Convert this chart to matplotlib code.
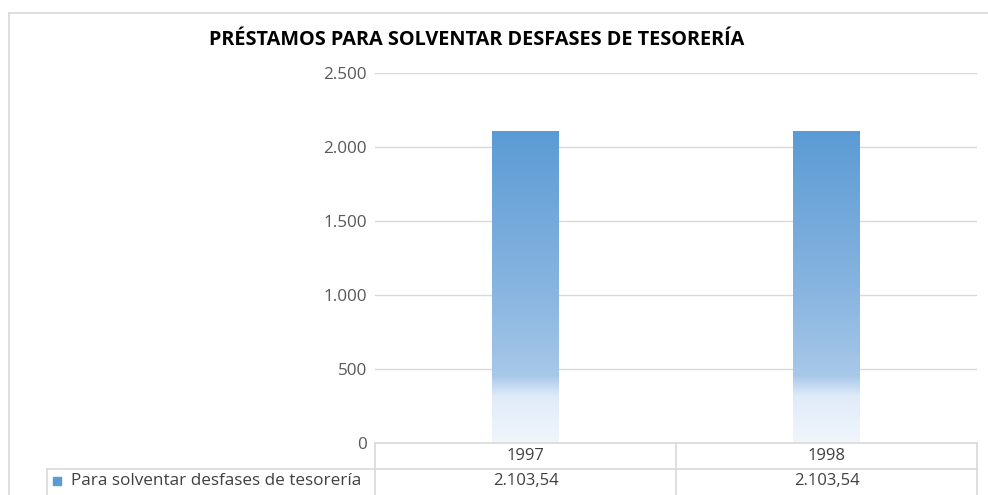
import numpy as np
import matplotlib
matplotlib.use("Agg")
import matplotlib.pyplot as plt
from matplotlib.lines import Line2D
from matplotlib.patches import Rectangle

categories = ["1997", "1998"]
values = [2103.54, 2103.54]
value_labels = ["2.103,54", "2.103,54"]
series_name = "Para solventar desfases de tesorería"
title = "PRÉSTAMOS PARA SOLVENTAR DESFASES DE TESORERÍA"
yticks = [0, 500, 1000, 1500, 2000, 2500]
ytick_labels = ["0", "500", "1.000", "1.500", "2.000", "2.500"]

plt.rcParams['font.family'] = ['Open Sans', 'DejaVu Sans']

W, H = 988, 495
fig = plt.figure(figsize=(W / 100, H / 100), dpi=100)

def fx(px):
    return px / W

def fy(py):
    return 1 - py / H

x0, x1 = 375, 977
y0, y1 = 443, 73
ax = fig.add_axes([fx(x0), fy(y0), fx(x1) - fx(x0), fy(y1) - fy(y0)])
ax.set_xlim(-0.5, len(categories) - 0.5)
ax.set_ylim(0, 2500)
ax.set_yticks(yticks)
ax.set_yticklabels(ytick_labels, fontsize=12.3, color="#595959")
ax.tick_params(axis="y", length=0, pad=6)
ax.set_xticks([])
for s in ax.spines.values():
    s.set_visible(False)
ax.grid(axis="y", color="#d9d9d9", linewidth=1)
ax.set_axisbelow(True)

# gradient for bars (relative to bar height)
stops = [(0.0, (241, 246, 252)), (0.15, (224, 235, 248)), (0.215, (168, 200, 233)),
         (0.45, (140, 183, 225)), (1.0, (91, 155, 213))]
def grad_col(f):
    xs = [s[0] for s in stops]
    return [np.interp(f, xs, [s[1][i] for s in stops]) / 255 for i in range(3)]

bw = 0.22
for i, v in enumerate(values):
    n = 300
    fr = np.linspace(0, 1, n)
    img = np.array([grad_col(f) for f in fr])[:, None, :]
    ax.imshow(img, extent=[i - bw / 2, i + bw / 2, 0, v], origin="lower",
              aspect="auto", zorder=2, interpolation="bilinear")
ax.set_xlim(-0.5, len(categories) - 0.5)
ax.set_ylim(0, 2500)

# title
fig.text(fx(477), fy(40), title, ha="center", va="center", fontsize=14.3,
         fontweight="bold", color="#000000")

# table lines
lc = "#d9d9d9"
def hline(y, xa, xb):
    fig.add_artist(Line2D([fx(xa), fx(xb)], [fy(y), fy(y)], color=lc, lw=1.2))
def vline(x, ya, yb):
    fig.add_artist(Line2D([fx(x), fx(x)], [fy(ya), fy(yb)], color=lc, lw=1.2))

hline(443, x0, x1)
hline(469, 47, x1)
vline(x0, 443, 495)
vline((x0 + x1) / 2, 443, 495)
vline(x1, 443, 495)
vline(47, 469, 495)

# outer chart border
hline(13, 9, 988)
vline(9, 13, 495)

colw = (x1 - x0) / len(categories)
for i, (c, vl) in enumerate(zip(categories, value_labels)):
    cx = x0 + colw * (i + 0.5)
    fig.text(fx(cx), fy(456), c, ha="center", va="center", fontsize=12, color="#404040")
    fig.text(fx(cx), fy(481), vl, ha="center", va="center", fontsize=12, color="#404040")

fig.add_artist(Rectangle((fx(53), fy(485)), fx(8), fy(477) - fy(485),
                         color="#5b9bd5", transform=fig.transFigure))
fig.text(fx(71), fy(481), series_name, ha="left", va="center", fontsize=12.3, color="#404040")

fig.savefig("out.png", dpi=100)
